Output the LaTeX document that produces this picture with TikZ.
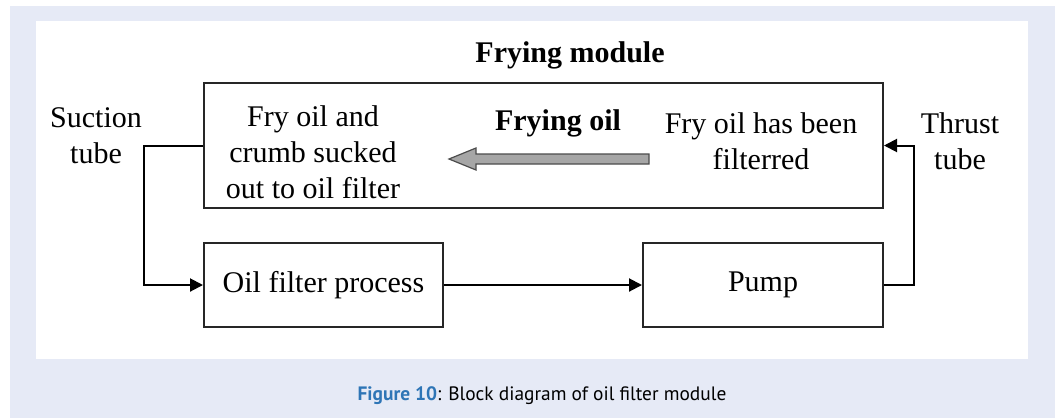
\documentclass[tikz,border=0pt]{standalone}
\usepackage{fontspec}
\setmainfont{Liberation Serif}
\newfontfamily\capfont{PT Sans}
\usetikzlibrary{arrows.meta}
\definecolor{panelbg}{RGB}{230,234,246}
\definecolor{figblue}{RGB}{46,117,182}
\definecolor{oilgray}{RGB}{166,166,166}

\begin{document}
\begin{tikzpicture}[x=0.5pt, y=-0.5pt, >={Triangle[length=6.5pt,width=6.5pt]},
  blk/.style={draw=black!85, line width=1pt, inner sep=0pt, font=\fontsize{15}{18}\selectfont},
  lbl/.style={font=\fontsize{15}{18}\selectfont, align=center, inner sep=0pt},
  pipe/.style={line width=1pt, ->}]
% khung nen
\useasboundingbox (0,0) rectangle (1058,418);
\fill[panelbg] (10,6) rectangle (1055,418);
\fill[white] (36,21) rectangle (1028,359);

% cac khoi
\node[blk, minimum width=339.5pt, minimum height=62.5pt] (fry) at (543.5,145.5) {};
\node[blk, minimum width=119.5pt, minimum height=42pt] (filter) at (323.5,285) {Oil filter process};
\node[blk, minimum width=120pt, minimum height=42pt] (pump) at (763,285) {Pump};

% nhan trong va ngoai khoi
\node[lbl] (title) at (570,55) {\bfseries Frying module};
\node[lbl] (sucked) at (313,152) {Fry oil and\\crumb sucked\\out to oil filter};
\node[lbl] (oil) at (558,123) {\bfseries Frying oil};
\node[lbl] (clean) at (761,141) {Fry oil has been\\filterred};
\node[lbl] (suction) at (96,136) {Suction\\tube};
\node[lbl] (thrust) at (960,141) {Thrust\\tube};

% mui ten dau chien
\fill[oilgray, draw=black!70, line width=0.6pt] (649,154) -- (476,154) -- (476,148) -- (449,159)
  -- (476,170) -- (476,164) -- (649,164) -- cycle;

% ong hut va ong day
\draw[pipe] (fry.west) -- ++(-59,0) |- (filter.west);
\draw[pipe] (filter.east) -- (pump.west);
\draw[pipe] (pump.east) -- ++(30,0) |- (fry.east);

% chu thich
\node[font=\capfont\fontsize{9.7}{12}\selectfont, inner sep=0pt] (cap) at (542,396)
  {\textcolor{figblue}{\bfseries Figure 10}: Block diagram of oil filter module};
\end{tikzpicture}
\end{document}
